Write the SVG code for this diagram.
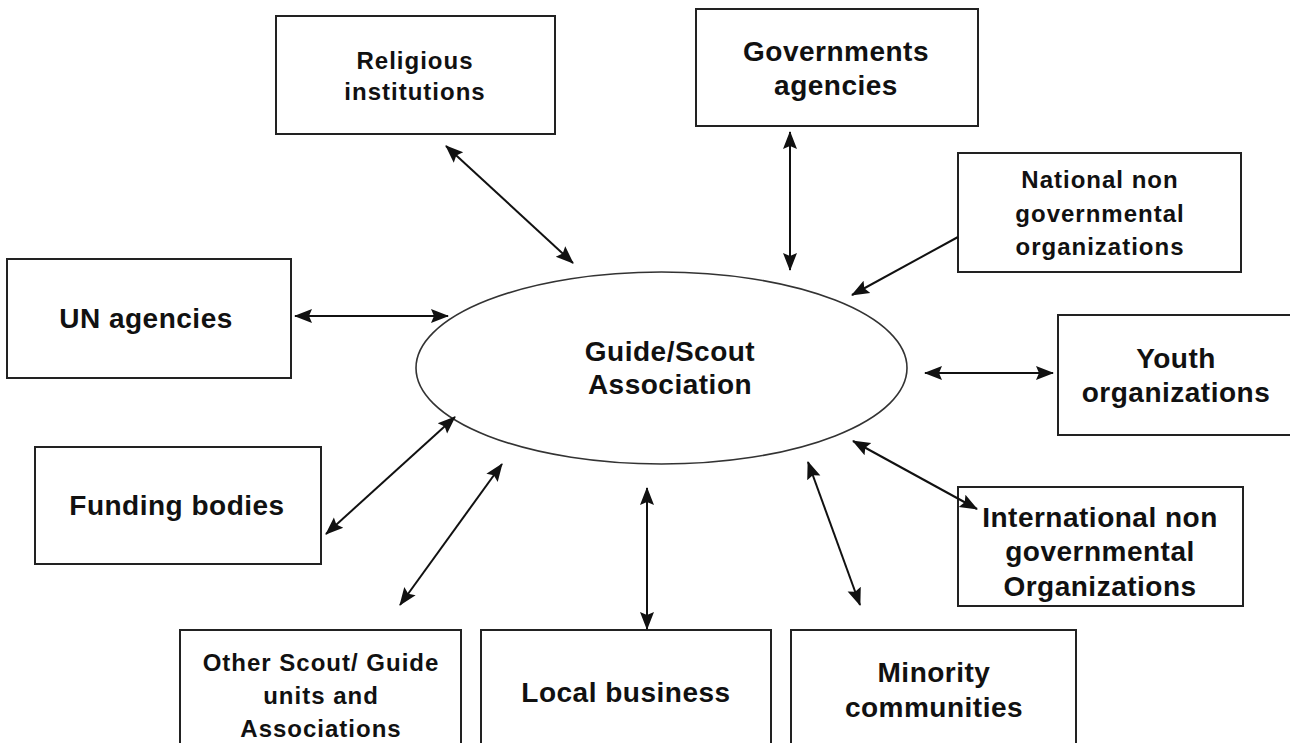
<svg xmlns="http://www.w3.org/2000/svg" width="1290" height="743" viewBox="0 0 1290 743">
<style>
  .box { fill: #ffffff; stroke: #222222; stroke-width: 2; }
  .ell { fill: #ffffff; stroke: #333333; stroke-width: 1.6; }
  .lbl { font-family: "Liberation Sans", Arial, sans-serif; font-weight: bold; font-size: 28px; letter-spacing: 0.5px; fill: #111111; text-anchor: middle; }
  .sm { font-size: 24px; letter-spacing: 1px; }
  .con line { stroke: #111111; stroke-width: 2; }
  .both { marker-start: url(#ah); marker-end: url(#ah); }
  .one { marker-end: url(#ah); }
</style>
<defs>
  <marker id="ah" markerUnits="userSpaceOnUse" markerWidth="18" markerHeight="16" viewBox="0 0 18 16" refX="17" refY="8" orient="auto-start-reverse">
    <path d="M0,1 L18,8 L0,15 L3,8 z" fill="#111111"/>
  </marker>
</defs>
<rect width="1290" height="743" fill="#ffffff"/>

<g id="center">
  <ellipse class="ell" cx="661.5" cy="368" rx="245.5" ry="96"/>
  <text class="lbl" x="670" y="361">Guide/Scout</text>
  <text class="lbl" x="670" y="394">Association</text>
</g>

<g id="religious">
  <rect class="box" x="276" y="16" width="279" height="118"/>
  <text class="lbl sm" x="415" y="69">Religious</text>
  <text class="lbl sm" x="415" y="100">institutions</text>
</g>

<g id="governments">
  <rect class="box" x="696" y="9" width="282" height="117"/>
  <text class="lbl" x="836" y="61">Governments</text>
  <text class="lbl" x="836" y="95">agencies</text>
</g>

<g id="national">
  <rect class="box" x="958" y="153" width="283" height="119"/>
  <text class="lbl sm" x="1100" y="188">National non</text>
  <text class="lbl sm" x="1100" y="222">governmental</text>
  <text class="lbl sm" x="1100" y="255">organizations</text>
</g>

<g id="un">
  <rect class="box" x="7" y="259" width="284" height="119"/>
  <text class="lbl" x="146" y="328">UN agencies</text>
</g>

<g id="youth">
  <rect class="box" x="1058" y="315" width="240" height="120"/>
  <text class="lbl" x="1176" y="368">Youth</text>
  <text class="lbl" x="1176" y="402">organizations</text>
</g>

<g id="funding">
  <rect class="box" x="35" y="447" width="286" height="117"/>
  <text class="lbl" x="177" y="515">Funding bodies</text>
</g>

<g id="international">
  <rect class="box" x="958" y="487" width="285" height="119"/>
  <text class="lbl" x="1100" y="527">International non</text>
  <text class="lbl" x="1100" y="561">governmental</text>
  <text class="lbl" x="1100" y="596">Organizations</text>
</g>

<g id="other">
  <rect class="box" x="180" y="630" width="281" height="130"/>
  <text class="lbl sm" x="321" y="671">Other Scout/ Guide</text>
  <text class="lbl sm" x="321" y="704">units and</text>
  <text class="lbl sm" x="321" y="737">Associations</text>
</g>

<g id="local">
  <rect class="box" x="481" y="630" width="290" height="130"/>
  <text class="lbl" x="626" y="702">Local business</text>
</g>

<g id="minority">
  <rect class="box" x="791" y="630" width="285" height="130"/>
  <text class="lbl" x="934" y="682">Minority</text>
  <text class="lbl" x="934" y="717">communities</text>
</g>

<g id="connectors" class="con">
  <line class="both" x1="446" y1="146" x2="573" y2="263"/>
  <line class="both" x1="790" y1="132" x2="790" y2="270"/>
  <line class="one" x1="958" y1="237" x2="852" y2="295"/>
  <line class="both" x1="295" y1="316" x2="448" y2="316"/>
  <line class="both" x1="925" y1="373" x2="1053" y2="373"/>
  <line class="both" x1="853" y1="441" x2="977" y2="509"/>
  <line class="both" x1="455" y1="417" x2="326" y2="534"/>
  <line class="both" x1="502" y1="464" x2="400" y2="605"/>
  <line class="both" x1="647" y1="488" x2="647" y2="629"/>
  <line class="both" x1="808" y1="462" x2="860" y2="605"/>
</g>
</svg>
